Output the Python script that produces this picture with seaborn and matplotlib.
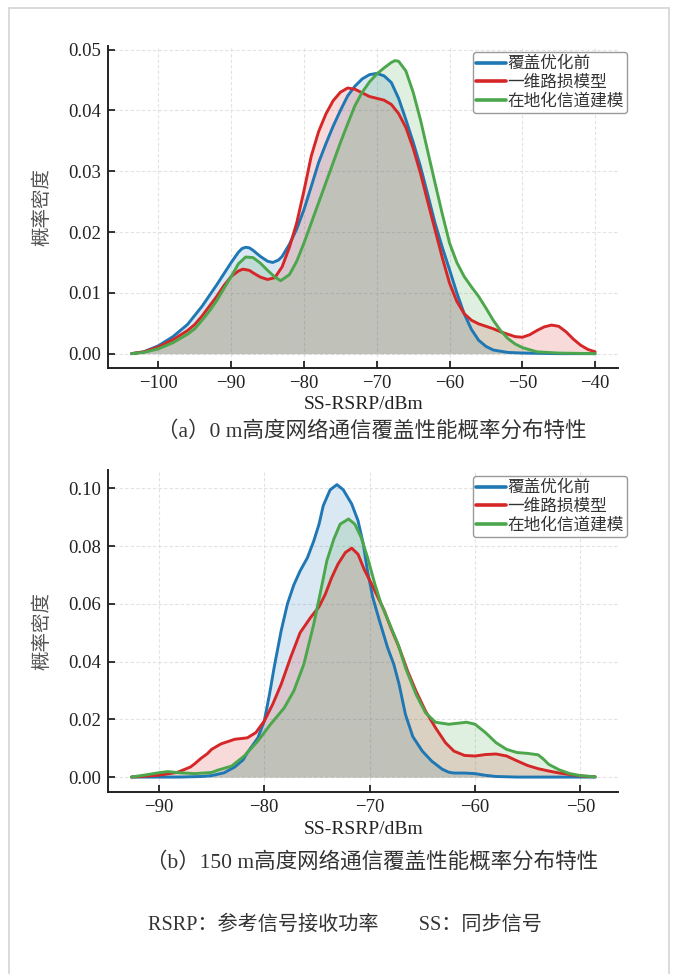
import numpy as np
import pandas as pd
import matplotlib
matplotlib.use("Agg")
import matplotlib.pyplot as plt
from matplotlib.lines import Line2D
from matplotlib.ticker import FormatStrFormatter
import seaborn as sns

# ---------------- data ----------------
series_names = ["覆盖优化前", "一维路损模型", "在地化信道建模"]
series_colors = ["#1f77b4", "#d62728", "#4ca64c"]

# panel (a): 0 m
a_blue_x = [-103.7, -102, -100, -98, -96, -94, -92, -90, -89, -88.5, -88, -87.5, -87, -86, -85, -84.3, -83.5,
            -83, -82, -81, -80, -79, -78, -77, -76, -75, -74, -73, -72, -71, -70, -69, -68, -67, -66, -65,
            -64, -63, -62, -61, -60, -59, -58, -57, -56, -55, -54, -52, -50, -45, -40]
a_blue_y = [0.0, 0.0003, 0.0013, 0.0028, 0.0048, 0.0078, 0.0113, 0.0150, 0.0167, 0.0173, 0.0175, 0.0174,
            0.0170, 0.0160, 0.0152, 0.0150, 0.0154, 0.0160, 0.0180, 0.0205, 0.0237, 0.0275, 0.0314, 0.0345,
            0.0374, 0.0400, 0.0424, 0.0440, 0.0452, 0.0459, 0.0461, 0.0457, 0.0446, 0.0420, 0.0385, 0.0348,
            0.0308, 0.0262, 0.0215, 0.0175, 0.0138, 0.0100, 0.0066, 0.0040, 0.0022, 0.0012, 0.0006, 0.0002,
            0.0001, 0.0, 0.0]

a_red_x = [-103.7, -102, -100, -98, -96, -95, -94, -93, -92, -91, -90, -89, -88.4, -87.5, -87, -86, -85,
           -84, -83, -82, -81, -80, -79, -78, -77, -76, -75, -74, -73, -72, -71, -70, -69, -68, -67, -66,
           -65, -64, -63, -62, -61, -60, -59, -58, -57, -56, -55, -54, -53, -52, -51, -50, -49, -48, -47,
           -46, -45, -44, -43, -42, -41, -40]
a_red_y = [0.0, 0.0003, 0.0011, 0.0023, 0.0038, 0.0048, 0.0062, 0.0078, 0.0094, 0.0112, 0.0127, 0.0136,
           0.0139, 0.0137, 0.0133, 0.0126, 0.0122, 0.0125, 0.0143, 0.0175, 0.0215, 0.0268, 0.0325, 0.0365,
           0.0394, 0.0416, 0.0430, 0.0437, 0.0435, 0.0429, 0.0423, 0.0420, 0.0417, 0.0410, 0.0395, 0.0372,
           0.0338, 0.0297, 0.0250, 0.0204, 0.0158, 0.0116, 0.0086, 0.0066, 0.0055, 0.0049, 0.0045, 0.0041,
           0.0036, 0.0032, 0.0028, 0.0027, 0.0031, 0.0038, 0.0044, 0.0047, 0.0045, 0.0036, 0.0024, 0.0014,
           0.0007, 0.0003]

a_green_x = [-103.7, -102, -100, -98, -96, -95, -94, -93, -92, -91, -90, -89, -88, -87, -86, -85, -84,
             -83.2, -82, -81, -80, -79, -78, -77, -76, -75, -74, -73, -72, -71, -70, -69, -68, -67.5, -67,
             -66, -65, -64, -63, -62, -61, -60, -59, -58, -57, -56, -55, -54, -53, -52, -51, -50, -48, -45,
             -40]
a_green_y = [0.0, 0.0002, 0.0008, 0.0018, 0.0032, 0.0041, 0.0055, 0.0070, 0.0087, 0.0107, 0.0127, 0.0148,
             0.0159, 0.0158, 0.0149, 0.0137, 0.0126, 0.0120, 0.0130, 0.0152, 0.0182, 0.0215, 0.0248, 0.0281,
             0.0314, 0.0347, 0.0378, 0.0408, 0.0430, 0.0447, 0.0460, 0.0470, 0.0479, 0.0482, 0.0481, 0.0465,
             0.0430, 0.0385, 0.0333, 0.0281, 0.0230, 0.0182, 0.0150, 0.0127, 0.0110, 0.0094, 0.0075, 0.0055,
             0.0038, 0.0025, 0.0016, 0.0010, 0.0003, 0.0001, 0.0]

# panel (b): 150 m
b_blue_x = [-92.6, -88, -86, -85, -84.4, -83.8, -82.8, -82.0, -81.6, -80.6, -80, -79.5, -79.06, -78.4, -77.8,
            -77.2, -76.6, -75.9, -75.3, -74.8, -74.4, -73.75, -73.1, -72.5, -71.7, -71.1, -70.6, -70.2,
            -69.7, -69.06, -68.3, -67.7, -67.2, -66.6, -65.9, -65, -64.1, -63.1, -62.5, -62, -61, -60,
            -59, -58, -56, -48.6]
b_blue_y = [0.0, 0.0, 0.0002, 0.0005, 0.0010, 0.0015, 0.0035, 0.0060, 0.0085, 0.0136, 0.0194, 0.0287,
            0.0380, 0.0506, 0.0600, 0.0665, 0.0714, 0.0760, 0.0818, 0.0876, 0.0940, 0.0995, 0.1013, 0.0995,
            0.0946, 0.0888, 0.0807, 0.0714, 0.0622, 0.0541, 0.0449, 0.0390, 0.0321, 0.0217, 0.0140, 0.0090,
            0.0055, 0.0027, 0.0017, 0.0014, 0.0014, 0.0012, 0.0006, 0.0002, 0.0, 0.0]

b_red_x = [-92.6, -91, -90.1, -89, -88.2, -87, -86.6, -86, -85.4, -85, -84.1, -82.8, -81.6, -80.8, -80,
           -79.2, -78.4, -77.5, -76.6, -75.6, -74.8, -74.2, -73.6, -73, -72.3, -71.7, -71.1, -70.5, -69.8,
           -69.2, -68.6, -68, -67.2, -66.4, -65.6, -64.7, -63.75, -62.8, -62, -61, -60, -59, -58, -57, -56,
           -55, -54, -53, -52, -51, -50, -48.6]
b_red_y = [0.0, 0.0004, 0.0006, 0.0012, 0.0017, 0.0035, 0.0046, 0.0065, 0.0081, 0.0096, 0.0115, 0.0131,
           0.0136, 0.0154, 0.0194, 0.0252, 0.0321, 0.0414, 0.0500, 0.0553, 0.0590, 0.0634, 0.0691, 0.0738,
           0.0778, 0.0793, 0.0772, 0.0718, 0.0668, 0.0622, 0.0576, 0.0518, 0.0449, 0.0368, 0.0298, 0.0229,
           0.0171, 0.0119, 0.0090, 0.0075, 0.0073, 0.0078, 0.0080, 0.0073, 0.0056, 0.0040, 0.0029, 0.0021,
           0.0014, 0.0009, 0.0004, 0.0001]

b_green_x = [-92.6, -91, -90, -89.15, -88, -86.6, -85, -84.4, -83.1, -81.9, -80.6, -79.4, -78.1, -77.2,
             -76.25, -75.3, -74.7, -74.06, -73.4, -72.8, -72.0, -71.4, -70.8, -70.2, -69.5, -68.9, -68.1,
             -67.3, -66.6, -65.6, -64.7, -63.75, -62.5, -61.5, -60.8, -60, -59, -58, -57, -56, -55, -54,
             -53.5, -53, -52, -51, -50, -48.6]
b_green_y = [0.0, 0.0009, 0.0015, 0.0019, 0.0015, 0.0012, 0.0016, 0.0024, 0.0038, 0.0073, 0.0125, 0.0183,
             0.0240, 0.0298, 0.0390, 0.0530, 0.0634, 0.0749, 0.0824, 0.0876, 0.0894, 0.0876, 0.0830, 0.0761,
             0.0668, 0.0599, 0.0530, 0.0460, 0.0379, 0.0287, 0.0223, 0.0190, 0.0183, 0.0187, 0.0190, 0.0183,
             0.0154, 0.0119, 0.0096, 0.0085, 0.0082, 0.0077, 0.0062, 0.0044, 0.0025, 0.0012, 0.0005, 0.0001]

a_xticks = [-100, -90, -80, -70, -60, -50, -40]
a_yticks = [0.00, 0.01, 0.02, 0.03, 0.04, 0.05]
b_xticks = [-90, -80, -70, -60, -50]
b_yticks = [0.00, 0.02, 0.04, 0.06, 0.08, 0.10]

xlabel_text = "SS-RSRP/dBm"
ylabel_text = "概率密度"
caption_a = "（a）0 m高度网络通信覆盖性能概率分布特性"
caption_b = "（b）150 m高度网络通信覆盖性能概率分布特性"
note_text = "RSRP：参考信号接收功率　　SS：同步信号"

# ---------------- style ----------------
sns.set_theme(style="ticks")
SERIF = ["Liberation Serif", "Noto Sans CJK SC", "DejaVu Sans"]
CJK = ["Noto Sans CJK SC", "DejaVu Sans"]
MIX = ["Liberation Serif", "Noto Sans CJK SC", "DejaVu Sans"]
plt.rcParams["font.family"] = CJK
plt.rcParams["axes.unicode_minus"] = True

W, H = 678, 974
fig = plt.figure(figsize=(W / 100, H / 100), dpi=100)
fig.patch.set_facecolor("white")

def fx(px):
    return px / W

def fy(py):
    return 1 - py / H

# page frame
for (x0, y0, x1, y1) in [(9, 8, 669, 8), (9, 8, 9, 974), (669, 8, 669, 974)]:
    fig.add_artist(Line2D([fx(x0), fx(x1)], [fy(y0), fy(y1)], transform=fig.transFigure,
                          color="#d4d4d4", lw=1.2))

panels = [
    dict(box=(108.3, 46, 618.3, 368.3), data=[(a_blue_x, a_blue_y), (a_red_x, a_red_y), (a_green_x, a_green_y)],
         xticks=a_xticks, yticks=a_yticks, xlab_y=405, cap=caption_a, cap_y=431),
    dict(box=(108.3, 470, 618.3, 791.7), data=[(b_blue_x, b_blue_y), (b_red_x, b_red_y), (b_green_x, b_green_y)],
         xticks=b_xticks, yticks=b_yticks, xlab_y=829, cap=caption_b, cap_y=862),
]

for p in panels:
    l, t, r, b = p["box"]
    ax = fig.add_axes([fx(l), fy(b), (r - l) / W, (b - t) / H])
    for (xs, ys), name, col in zip(p["data"], series_names, series_colors):
        df = pd.DataFrame({"x": xs, "y": ys})
        ax.fill_between(df["x"], 0, df["y"], color=col, alpha=0.17, lw=0)
        sns.lineplot(data=df, x="x", y="y", ax=ax, color=col, lw=2.1, label=name, sort=False,
                     solid_joinstyle="round", solid_capstyle="round")
    ax.set_xticks(p["xticks"])
    ax.set_yticks(p["yticks"])
    ax.yaxis.set_major_formatter(FormatStrFormatter("%.2f"))
    ax.set_xlabel("")
    ax.set_ylabel("")
    ax.grid(True, color="#e2e2e2", linestyle=(0, (3, 2)), lw=0.8)
    ax.set_axisbelow(True)
    for s in ["top", "right"]:
        ax.spines[s].set_visible(False)
    for s in ["left", "bottom"]:
        ax.spines[s].set_linewidth(1.4)
        ax.spines[s].set_color("#222222")
    ax.tick_params(direction="in", length=5, width=1.3, color="#222222", labelsize=13.5,
                   labelcolor="#222222", pad=5)
    for lab in ax.get_xticklabels() + ax.get_yticklabels():
        lab.set_family(SERIF)
    leg = ax.legend(loc="upper right", bbox_to_anchor=(1.017, 0.981), borderaxespad=0,
                    prop={"family": CJK, "size": 12}, handlelength=1.8, handletextpad=0.05,
                    labelspacing=0.1, borderpad=0.2, frameon=True, fancybox=True, framealpha=1)
    leg.get_frame().set_edgecolor("#9a9a9a")
    leg.get_frame().set_linewidth(1.0)
    for txt in leg.get_texts():
        txt.set_color("#333333")
    for ln in leg.get_lines():
        ln.set_linewidth(2.6)
    # axis labels
    fig.text(fx((l + r) / 2), fy(p["xlab_y"]), xlabel_text, ha="center", va="center",
             family=SERIF, fontsize=14, color="#222222")
    fig.text(fx(42), fy((t + b) / 2), ylabel_text, ha="center", va="center", rotation=90,
             family=CJK, fontsize=14, color="#555555")
    fig.text(fx(372), fy(p["cap_y"]), p["cap"], ha="center", va="center",
             family=MIX, fontsize=15.5, color="#333333")

fig.text(fx(345), fy(925), note_text, ha="center", va="center", family=MIX, fontsize=14.5, color="#333333")

fig.savefig("out.png", dpi=100)
